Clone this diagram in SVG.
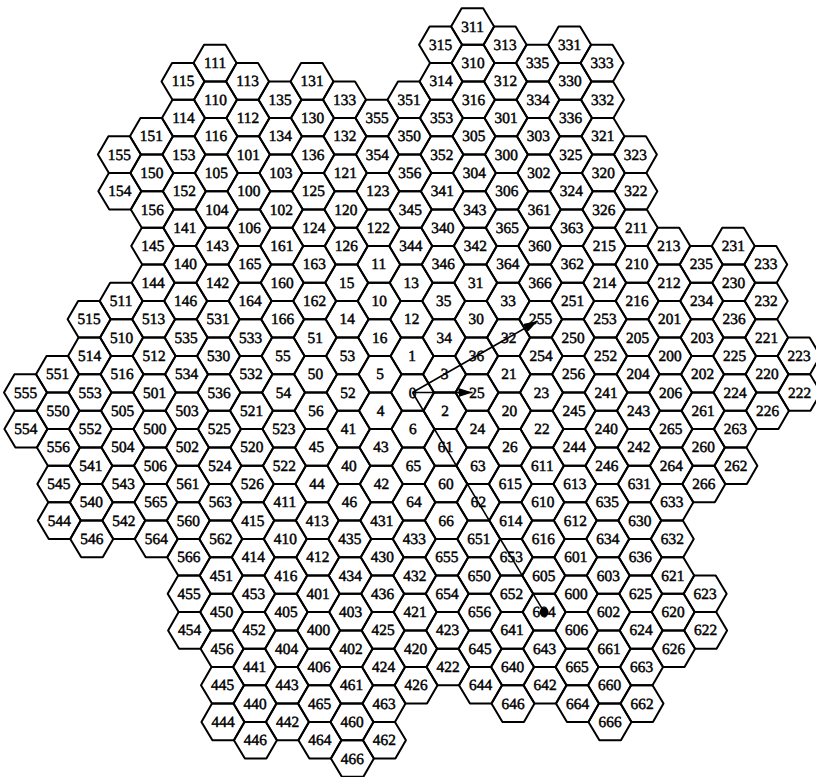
<svg xmlns="http://www.w3.org/2000/svg" xmlns:xlink="http://www.w3.org/1999/xlink" width="816" height="777" viewBox="0 0 816 777">
<style>
#h{fill:none;stroke:#000;stroke-width:2;stroke-linejoin:round}
text{font-family:"Liberation Serif","Times New Roman",serif;font-size:15.5px;text-anchor:middle;fill:#000;stroke:#000;stroke-width:0.45}
#connectors line{stroke:#000;stroke-width:1.6;fill:none}
</style>
<defs>
<polygon id="h" points="-21.5,0 -10.75,-18.3 10.75,-18.3 21.5,0 10.75,18.3 -10.75,18.3"/>
<marker id="ah" viewBox="0 0 14 9" refX="14" refY="4.5" markerWidth="14" markerHeight="9" markerUnits="userSpaceOnUse" orient="auto"><path d="M0,0 L14,4.5 L0,9 z" fill="#000"/></marker>
</defs>
<rect width="816" height="777" fill="#fff"/>
<g id="grid" transform="matrix(1 0 0.012 1 412.5 392.5)">
<g id="cells">
<g id="L0">
<g id="k00">
<g id="n0"><use href="#h"/><text y="5">0</text></g>
<g id="n1" transform="translate(0,-36.6)"><use href="#h"/><text y="5">1</text></g>
<g id="n2" transform="translate(32.25,18.3)"><use href="#h"/><text y="5">2</text></g>
<g id="n3" transform="translate(32.25,-18.3)"><use href="#h"/><text y="5">3</text></g>
<g id="n4" transform="translate(-32.25,18.3)"><use href="#h"/><text y="5">4</text></g>
<g id="n5" transform="translate(-32.25,-18.3)"><use href="#h"/><text y="5">5</text></g>
<g id="n6" transform="translate(0,36.6)"><use href="#h"/><text y="5">6</text></g>
</g>
<g id="k01" transform="translate(-32.25,-91.5)">
<g id="n10"><use href="#h"/><text y="5">10</text></g>
<g id="n11" transform="translate(0,-36.6)"><use href="#h"/><text y="5">11</text></g>
<g id="n12" transform="translate(32.25,18.3)"><use href="#h"/><text y="5">12</text></g>
<g id="n13" transform="translate(32.25,-18.3)"><use href="#h"/><text y="5">13</text></g>
<g id="n14" transform="translate(-32.25,18.3)"><use href="#h"/><text y="5">14</text></g>
<g id="n15" transform="translate(-32.25,-18.3)"><use href="#h"/><text y="5">15</text></g>
<g id="n16" transform="translate(0,36.6)"><use href="#h"/><text y="5">16</text></g>
</g>
<g id="k02" transform="translate(96.75,18.3)">
<g id="n20"><use href="#h"/><text y="5">20</text></g>
<g id="n21" transform="translate(0,-36.6)"><use href="#h"/><text y="5">21</text></g>
<g id="n22" transform="translate(32.25,18.3)"><use href="#h"/><text y="5">22</text></g>
<g id="n23" transform="translate(32.25,-18.3)"><use href="#h"/><text y="5">23</text></g>
<g id="n24" transform="translate(-32.25,18.3)"><use href="#h"/><text y="5">24</text></g>
<g id="n25" transform="translate(-32.25,-18.3)"><use href="#h"/><text y="5">25</text></g>
<g id="n26" transform="translate(0,36.6)"><use href="#h"/><text y="5">26</text></g>
</g>
<g id="k03" transform="translate(64.5,-73.2)">
<g id="n30"><use href="#h"/><text y="5">30</text></g>
<g id="n31" transform="translate(0,-36.6)"><use href="#h"/><text y="5">31</text></g>
<g id="n32" transform="translate(32.25,18.3)"><use href="#h"/><text y="5">32</text></g>
<g id="n33" transform="translate(32.25,-18.3)"><use href="#h"/><text y="5">33</text></g>
<g id="n34" transform="translate(-32.25,18.3)"><use href="#h"/><text y="5">34</text></g>
<g id="n35" transform="translate(-32.25,-18.3)"><use href="#h"/><text y="5">35</text></g>
<g id="n36" transform="translate(0,36.6)"><use href="#h"/><text y="5">36</text></g>
</g>
<g id="k04" transform="translate(-64.5,73.2)">
<g id="n40"><use href="#h"/><text y="5">40</text></g>
<g id="n41" transform="translate(0,-36.6)"><use href="#h"/><text y="5">41</text></g>
<g id="n42" transform="translate(32.25,18.3)"><use href="#h"/><text y="5">42</text></g>
<g id="n43" transform="translate(32.25,-18.3)"><use href="#h"/><text y="5">43</text></g>
<g id="n44" transform="translate(-32.25,18.3)"><use href="#h"/><text y="5">44</text></g>
<g id="n45" transform="translate(-32.25,-18.3)"><use href="#h"/><text y="5">45</text></g>
<g id="n46" transform="translate(0,36.6)"><use href="#h"/><text y="5">46</text></g>
</g>
<g id="k05" transform="translate(-96.75,-18.3)">
<g id="n50"><use href="#h"/><text y="5">50</text></g>
<g id="n51" transform="translate(0,-36.6)"><use href="#h"/><text y="5">51</text></g>
<g id="n52" transform="translate(32.25,18.3)"><use href="#h"/><text y="5">52</text></g>
<g id="n53" transform="translate(32.25,-18.3)"><use href="#h"/><text y="5">53</text></g>
<g id="n54" transform="translate(-32.25,18.3)"><use href="#h"/><text y="5">54</text></g>
<g id="n55" transform="translate(-32.25,-18.3)"><use href="#h"/><text y="5">55</text></g>
<g id="n56" transform="translate(0,36.6)"><use href="#h"/><text y="5">56</text></g>
</g>
<g id="k06" transform="translate(32.25,91.5)">
<g id="n60"><use href="#h"/><text y="5">60</text></g>
<g id="n61" transform="translate(0,-36.6)"><use href="#h"/><text y="5">61</text></g>
<g id="n62" transform="translate(32.25,18.3)"><use href="#h"/><text y="5">62</text></g>
<g id="n63" transform="translate(32.25,-18.3)"><use href="#h"/><text y="5">63</text></g>
<g id="n64" transform="translate(-32.25,18.3)"><use href="#h"/><text y="5">64</text></g>
<g id="n65" transform="translate(-32.25,-18.3)"><use href="#h"/><text y="5">65</text></g>
<g id="n66" transform="translate(0,36.6)"><use href="#h"/><text y="5">66</text></g>
</g>
</g>
<g id="L1" transform="translate(-161.25,-201.3)">
<g id="k10">
<g id="n100"><use href="#h"/><text y="5">100</text></g>
<g id="n101" transform="translate(0,-36.6)"><use href="#h"/><text y="5">101</text></g>
<g id="n102" transform="translate(32.25,18.3)"><use href="#h"/><text y="5">102</text></g>
<g id="n103" transform="translate(32.25,-18.3)"><use href="#h"/><text y="5">103</text></g>
<g id="n104" transform="translate(-32.25,18.3)"><use href="#h"/><text y="5">104</text></g>
<g id="n105" transform="translate(-32.25,-18.3)"><use href="#h"/><text y="5">105</text></g>
<g id="n106" transform="translate(0,36.6)"><use href="#h"/><text y="5">106</text></g>
</g>
<g id="k11" transform="translate(-32.25,-91.5)">
<g id="n110"><use href="#h"/><text y="5">110</text></g>
<g id="n111" transform="translate(0,-36.6)"><use href="#h"/><text y="5">111</text></g>
<g id="n112" transform="translate(32.25,18.3)"><use href="#h"/><text y="5">112</text></g>
<g id="n113" transform="translate(32.25,-18.3)"><use href="#h"/><text y="5">113</text></g>
<g id="n114" transform="translate(-32.25,18.3)"><use href="#h"/><text y="5">114</text></g>
<g id="n115" transform="translate(-32.25,-18.3)"><use href="#h"/><text y="5">115</text></g>
<g id="n116" transform="translate(0,36.6)"><use href="#h"/><text y="5">116</text></g>
</g>
<g id="k12" transform="translate(96.75,18.3)">
<g id="n120"><use href="#h"/><text y="5">120</text></g>
<g id="n121" transform="translate(0,-36.6)"><use href="#h"/><text y="5">121</text></g>
<g id="n122" transform="translate(32.25,18.3)"><use href="#h"/><text y="5">122</text></g>
<g id="n123" transform="translate(32.25,-18.3)"><use href="#h"/><text y="5">123</text></g>
<g id="n124" transform="translate(-32.25,18.3)"><use href="#h"/><text y="5">124</text></g>
<g id="n125" transform="translate(-32.25,-18.3)"><use href="#h"/><text y="5">125</text></g>
<g id="n126" transform="translate(0,36.6)"><use href="#h"/><text y="5">126</text></g>
</g>
<g id="k13" transform="translate(64.5,-73.2)">
<g id="n130"><use href="#h"/><text y="5">130</text></g>
<g id="n131" transform="translate(0,-36.6)"><use href="#h"/><text y="5">131</text></g>
<g id="n132" transform="translate(32.25,18.3)"><use href="#h"/><text y="5">132</text></g>
<g id="n133" transform="translate(32.25,-18.3)"><use href="#h"/><text y="5">133</text></g>
<g id="n134" transform="translate(-32.25,18.3)"><use href="#h"/><text y="5">134</text></g>
<g id="n135" transform="translate(-32.25,-18.3)"><use href="#h"/><text y="5">135</text></g>
<g id="n136" transform="translate(0,36.6)"><use href="#h"/><text y="5">136</text></g>
</g>
<g id="k14" transform="translate(-64.5,73.2)">
<g id="n140"><use href="#h"/><text y="5">140</text></g>
<g id="n141" transform="translate(0,-36.6)"><use href="#h"/><text y="5">141</text></g>
<g id="n142" transform="translate(32.25,18.3)"><use href="#h"/><text y="5">142</text></g>
<g id="n143" transform="translate(32.25,-18.3)"><use href="#h"/><text y="5">143</text></g>
<g id="n144" transform="translate(-32.25,18.3)"><use href="#h"/><text y="5">144</text></g>
<g id="n145" transform="translate(-32.25,-18.3)"><use href="#h"/><text y="5">145</text></g>
<g id="n146" transform="translate(0,36.6)"><use href="#h"/><text y="5">146</text></g>
</g>
<g id="k15" transform="translate(-96.75,-18.3)">
<g id="n150"><use href="#h"/><text y="5">150</text></g>
<g id="n151" transform="translate(0,-36.6)"><use href="#h"/><text y="5">151</text></g>
<g id="n152" transform="translate(32.25,18.3)"><use href="#h"/><text y="5">152</text></g>
<g id="n153" transform="translate(32.25,-18.3)"><use href="#h"/><text y="5">153</text></g>
<g id="n154" transform="translate(-32.25,18.3)"><use href="#h"/><text y="5">154</text></g>
<g id="n155" transform="translate(-32.25,-18.3)"><use href="#h"/><text y="5">155</text></g>
<g id="n156" transform="translate(0,36.6)"><use href="#h"/><text y="5">156</text></g>
</g>
<g id="k16" transform="translate(32.25,91.5)">
<g id="n160"><use href="#h"/><text y="5">160</text></g>
<g id="n161" transform="translate(0,-36.6)"><use href="#h"/><text y="5">161</text></g>
<g id="n162" transform="translate(32.25,18.3)"><use href="#h"/><text y="5">162</text></g>
<g id="n163" transform="translate(32.25,-18.3)"><use href="#h"/><text y="5">163</text></g>
<g id="n164" transform="translate(-32.25,18.3)"><use href="#h"/><text y="5">164</text></g>
<g id="n165" transform="translate(-32.25,-18.3)"><use href="#h"/><text y="5">165</text></g>
<g id="n166" transform="translate(0,36.6)"><use href="#h"/><text y="5">166</text></g>
</g>
</g>
<g id="L2" transform="translate(258,-36.6)">
<g id="k20">
<g id="n200"><use href="#h"/><text y="5">200</text></g>
<g id="n201" transform="translate(0,-36.6)"><use href="#h"/><text y="5">201</text></g>
<g id="n202" transform="translate(32.25,18.3)"><use href="#h"/><text y="5">202</text></g>
<g id="n203" transform="translate(32.25,-18.3)"><use href="#h"/><text y="5">203</text></g>
<g id="n204" transform="translate(-32.25,18.3)"><use href="#h"/><text y="5">204</text></g>
<g id="n205" transform="translate(-32.25,-18.3)"><use href="#h"/><text y="5">205</text></g>
<g id="n206" transform="translate(0,36.6)"><use href="#h"/><text y="5">206</text></g>
</g>
<g id="k21" transform="translate(-32.25,-91.5)">
<g id="n210"><use href="#h"/><text y="5">210</text></g>
<g id="n211" transform="translate(0,-36.6)"><use href="#h"/><text y="5">211</text></g>
<g id="n212" transform="translate(32.25,18.3)"><use href="#h"/><text y="5">212</text></g>
<g id="n213" transform="translate(32.25,-18.3)"><use href="#h"/><text y="5">213</text></g>
<g id="n214" transform="translate(-32.25,18.3)"><use href="#h"/><text y="5">214</text></g>
<g id="n215" transform="translate(-32.25,-18.3)"><use href="#h"/><text y="5">215</text></g>
<g id="n216" transform="translate(0,36.6)"><use href="#h"/><text y="5">216</text></g>
</g>
<g id="k22" transform="translate(96.75,18.3)">
<g id="n220"><use href="#h"/><text y="5">220</text></g>
<g id="n221" transform="translate(0,-36.6)"><use href="#h"/><text y="5">221</text></g>
<g id="n222" transform="translate(32.25,18.3)"><use href="#h"/><text y="5">222</text></g>
<g id="n223" transform="translate(32.25,-18.3)"><use href="#h"/><text y="5">223</text></g>
<g id="n224" transform="translate(-32.25,18.3)"><use href="#h"/><text y="5">224</text></g>
<g id="n225" transform="translate(-32.25,-18.3)"><use href="#h"/><text y="5">225</text></g>
<g id="n226" transform="translate(0,36.6)"><use href="#h"/><text y="5">226</text></g>
</g>
<g id="k23" transform="translate(64.5,-73.2)">
<g id="n230"><use href="#h"/><text y="5">230</text></g>
<g id="n231" transform="translate(0,-36.6)"><use href="#h"/><text y="5">231</text></g>
<g id="n232" transform="translate(32.25,18.3)"><use href="#h"/><text y="5">232</text></g>
<g id="n233" transform="translate(32.25,-18.3)"><use href="#h"/><text y="5">233</text></g>
<g id="n234" transform="translate(-32.25,18.3)"><use href="#h"/><text y="5">234</text></g>
<g id="n235" transform="translate(-32.25,-18.3)"><use href="#h"/><text y="5">235</text></g>
<g id="n236" transform="translate(0,36.6)"><use href="#h"/><text y="5">236</text></g>
</g>
<g id="k24" transform="translate(-64.5,73.2)">
<g id="n240"><use href="#h"/><text y="5">240</text></g>
<g id="n241" transform="translate(0,-36.6)"><use href="#h"/><text y="5">241</text></g>
<g id="n242" transform="translate(32.25,18.3)"><use href="#h"/><text y="5">242</text></g>
<g id="n243" transform="translate(32.25,-18.3)"><use href="#h"/><text y="5">243</text></g>
<g id="n244" transform="translate(-32.25,18.3)"><use href="#h"/><text y="5">244</text></g>
<g id="n245" transform="translate(-32.25,-18.3)"><use href="#h"/><text y="5">245</text></g>
<g id="n246" transform="translate(0,36.6)"><use href="#h"/><text y="5">246</text></g>
</g>
<g id="k25" transform="translate(-96.75,-18.3)">
<g id="n250"><use href="#h"/><text y="5">250</text></g>
<g id="n251" transform="translate(0,-36.6)"><use href="#h"/><text y="5">251</text></g>
<g id="n252" transform="translate(32.25,18.3)"><use href="#h"/><text y="5">252</text></g>
<g id="n253" transform="translate(32.25,-18.3)"><use href="#h"/><text y="5">253</text></g>
<g id="n254" transform="translate(-32.25,18.3)"><use href="#h"/><text y="5">254</text></g>
<g id="n255" transform="translate(-32.25,-18.3)"><use href="#h"/><text y="5">255</text></g>
<g id="n256" transform="translate(0,36.6)"><use href="#h"/><text y="5">256</text></g>
</g>
<g id="k26" transform="translate(32.25,91.5)">
<g id="n260"><use href="#h"/><text y="5">260</text></g>
<g id="n261" transform="translate(0,-36.6)"><use href="#h"/><text y="5">261</text></g>
<g id="n262" transform="translate(32.25,18.3)"><use href="#h"/><text y="5">262</text></g>
<g id="n263" transform="translate(32.25,-18.3)"><use href="#h"/><text y="5">263</text></g>
<g id="n264" transform="translate(-32.25,18.3)"><use href="#h"/><text y="5">264</text></g>
<g id="n265" transform="translate(-32.25,-18.3)"><use href="#h"/><text y="5">265</text></g>
<g id="n266" transform="translate(0,36.6)"><use href="#h"/><text y="5">266</text></g>
</g>
</g>
<g id="L3" transform="translate(96.75,-237.9)">
<g id="k30">
<g id="n300"><use href="#h"/><text y="5">300</text></g>
<g id="n301" transform="translate(0,-36.6)"><use href="#h"/><text y="5">301</text></g>
<g id="n302" transform="translate(32.25,18.3)"><use href="#h"/><text y="5">302</text></g>
<g id="n303" transform="translate(32.25,-18.3)"><use href="#h"/><text y="5">303</text></g>
<g id="n304" transform="translate(-32.25,18.3)"><use href="#h"/><text y="5">304</text></g>
<g id="n305" transform="translate(-32.25,-18.3)"><use href="#h"/><text y="5">305</text></g>
<g id="n306" transform="translate(0,36.6)"><use href="#h"/><text y="5">306</text></g>
</g>
<g id="k31" transform="translate(-32.25,-91.5)">
<g id="n310"><use href="#h"/><text y="5">310</text></g>
<g id="n311" transform="translate(0,-36.6)"><use href="#h"/><text y="5">311</text></g>
<g id="n312" transform="translate(32.25,18.3)"><use href="#h"/><text y="5">312</text></g>
<g id="n313" transform="translate(32.25,-18.3)"><use href="#h"/><text y="5">313</text></g>
<g id="n314" transform="translate(-32.25,18.3)"><use href="#h"/><text y="5">314</text></g>
<g id="n315" transform="translate(-32.25,-18.3)"><use href="#h"/><text y="5">315</text></g>
<g id="n316" transform="translate(0,36.6)"><use href="#h"/><text y="5">316</text></g>
</g>
<g id="k32" transform="translate(96.75,18.3)">
<g id="n320"><use href="#h"/><text y="5">320</text></g>
<g id="n321" transform="translate(0,-36.6)"><use href="#h"/><text y="5">321</text></g>
<g id="n322" transform="translate(32.25,18.3)"><use href="#h"/><text y="5">322</text></g>
<g id="n323" transform="translate(32.25,-18.3)"><use href="#h"/><text y="5">323</text></g>
<g id="n324" transform="translate(-32.25,18.3)"><use href="#h"/><text y="5">324</text></g>
<g id="n325" transform="translate(-32.25,-18.3)"><use href="#h"/><text y="5">325</text></g>
<g id="n326" transform="translate(0,36.6)"><use href="#h"/><text y="5">326</text></g>
</g>
<g id="k33" transform="translate(64.5,-73.2)">
<g id="n330"><use href="#h"/><text y="5">330</text></g>
<g id="n331" transform="translate(0,-36.6)"><use href="#h"/><text y="5">331</text></g>
<g id="n332" transform="translate(32.25,18.3)"><use href="#h"/><text y="5">332</text></g>
<g id="n333" transform="translate(32.25,-18.3)"><use href="#h"/><text y="5">333</text></g>
<g id="n334" transform="translate(-32.25,18.3)"><use href="#h"/><text y="5">334</text></g>
<g id="n335" transform="translate(-32.25,-18.3)"><use href="#h"/><text y="5">335</text></g>
<g id="n336" transform="translate(0,36.6)"><use href="#h"/><text y="5">336</text></g>
</g>
<g id="k34" transform="translate(-64.5,73.2)">
<g id="n340"><use href="#h"/><text y="5">340</text></g>
<g id="n341" transform="translate(0,-36.6)"><use href="#h"/><text y="5">341</text></g>
<g id="n342" transform="translate(32.25,18.3)"><use href="#h"/><text y="5">342</text></g>
<g id="n343" transform="translate(32.25,-18.3)"><use href="#h"/><text y="5">343</text></g>
<g id="n344" transform="translate(-32.25,18.3)"><use href="#h"/><text y="5">344</text></g>
<g id="n345" transform="translate(-32.25,-18.3)"><use href="#h"/><text y="5">345</text></g>
<g id="n346" transform="translate(0,36.6)"><use href="#h"/><text y="5">346</text></g>
</g>
<g id="k35" transform="translate(-96.75,-18.3)">
<g id="n350"><use href="#h"/><text y="5">350</text></g>
<g id="n351" transform="translate(0,-36.6)"><use href="#h"/><text y="5">351</text></g>
<g id="n352" transform="translate(32.25,18.3)"><use href="#h"/><text y="5">352</text></g>
<g id="n353" transform="translate(32.25,-18.3)"><use href="#h"/><text y="5">353</text></g>
<g id="n354" transform="translate(-32.25,18.3)"><use href="#h"/><text y="5">354</text></g>
<g id="n355" transform="translate(-32.25,-18.3)"><use href="#h"/><text y="5">355</text></g>
<g id="n356" transform="translate(0,36.6)"><use href="#h"/><text y="5">356</text></g>
</g>
<g id="k36" transform="translate(32.25,91.5)">
<g id="n360"><use href="#h"/><text y="5">360</text></g>
<g id="n361" transform="translate(0,-36.6)"><use href="#h"/><text y="5">361</text></g>
<g id="n362" transform="translate(32.25,18.3)"><use href="#h"/><text y="5">362</text></g>
<g id="n363" transform="translate(32.25,-18.3)"><use href="#h"/><text y="5">363</text></g>
<g id="n364" transform="translate(-32.25,18.3)"><use href="#h"/><text y="5">364</text></g>
<g id="n365" transform="translate(-32.25,-18.3)"><use href="#h"/><text y="5">365</text></g>
<g id="n366" transform="translate(0,36.6)"><use href="#h"/><text y="5">366</text></g>
</g>
</g>
<g id="L4" transform="translate(-96.75,237.9)">
<g id="k40">
<g id="n400"><use href="#h"/><text y="5">400</text></g>
<g id="n401" transform="translate(0,-36.6)"><use href="#h"/><text y="5">401</text></g>
<g id="n402" transform="translate(32.25,18.3)"><use href="#h"/><text y="5">402</text></g>
<g id="n403" transform="translate(32.25,-18.3)"><use href="#h"/><text y="5">403</text></g>
<g id="n404" transform="translate(-32.25,18.3)"><use href="#h"/><text y="5">404</text></g>
<g id="n405" transform="translate(-32.25,-18.3)"><use href="#h"/><text y="5">405</text></g>
<g id="n406" transform="translate(0,36.6)"><use href="#h"/><text y="5">406</text></g>
</g>
<g id="k41" transform="translate(-32.25,-91.5)">
<g id="n410"><use href="#h"/><text y="5">410</text></g>
<g id="n411" transform="translate(0,-36.6)"><use href="#h"/><text y="5">411</text></g>
<g id="n412" transform="translate(32.25,18.3)"><use href="#h"/><text y="5">412</text></g>
<g id="n413" transform="translate(32.25,-18.3)"><use href="#h"/><text y="5">413</text></g>
<g id="n414" transform="translate(-32.25,18.3)"><use href="#h"/><text y="5">414</text></g>
<g id="n415" transform="translate(-32.25,-18.3)"><use href="#h"/><text y="5">415</text></g>
<g id="n416" transform="translate(0,36.6)"><use href="#h"/><text y="5">416</text></g>
</g>
<g id="k42" transform="translate(96.75,18.3)">
<g id="n420"><use href="#h"/><text y="5">420</text></g>
<g id="n421" transform="translate(0,-36.6)"><use href="#h"/><text y="5">421</text></g>
<g id="n422" transform="translate(32.25,18.3)"><use href="#h"/><text y="5">422</text></g>
<g id="n423" transform="translate(32.25,-18.3)"><use href="#h"/><text y="5">423</text></g>
<g id="n424" transform="translate(-32.25,18.3)"><use href="#h"/><text y="5">424</text></g>
<g id="n425" transform="translate(-32.25,-18.3)"><use href="#h"/><text y="5">425</text></g>
<g id="n426" transform="translate(0,36.6)"><use href="#h"/><text y="5">426</text></g>
</g>
<g id="k43" transform="translate(64.5,-73.2)">
<g id="n430"><use href="#h"/><text y="5">430</text></g>
<g id="n431" transform="translate(0,-36.6)"><use href="#h"/><text y="5">431</text></g>
<g id="n432" transform="translate(32.25,18.3)"><use href="#h"/><text y="5">432</text></g>
<g id="n433" transform="translate(32.25,-18.3)"><use href="#h"/><text y="5">433</text></g>
<g id="n434" transform="translate(-32.25,18.3)"><use href="#h"/><text y="5">434</text></g>
<g id="n435" transform="translate(-32.25,-18.3)"><use href="#h"/><text y="5">435</text></g>
<g id="n436" transform="translate(0,36.6)"><use href="#h"/><text y="5">436</text></g>
</g>
<g id="k44" transform="translate(-64.5,73.2)">
<g id="n440"><use href="#h"/><text y="5">440</text></g>
<g id="n441" transform="translate(0,-36.6)"><use href="#h"/><text y="5">441</text></g>
<g id="n442" transform="translate(32.25,18.3)"><use href="#h"/><text y="5">442</text></g>
<g id="n443" transform="translate(32.25,-18.3)"><use href="#h"/><text y="5">443</text></g>
<g id="n444" transform="translate(-32.25,18.3)"><use href="#h"/><text y="5">444</text></g>
<g id="n445" transform="translate(-32.25,-18.3)"><use href="#h"/><text y="5">445</text></g>
<g id="n446" transform="translate(0,36.6)"><use href="#h"/><text y="5">446</text></g>
</g>
<g id="k45" transform="translate(-96.75,-18.3)">
<g id="n450"><use href="#h"/><text y="5">450</text></g>
<g id="n451" transform="translate(0,-36.6)"><use href="#h"/><text y="5">451</text></g>
<g id="n452" transform="translate(32.25,18.3)"><use href="#h"/><text y="5">452</text></g>
<g id="n453" transform="translate(32.25,-18.3)"><use href="#h"/><text y="5">453</text></g>
<g id="n454" transform="translate(-32.25,18.3)"><use href="#h"/><text y="5">454</text></g>
<g id="n455" transform="translate(-32.25,-18.3)"><use href="#h"/><text y="5">455</text></g>
<g id="n456" transform="translate(0,36.6)"><use href="#h"/><text y="5">456</text></g>
</g>
<g id="k46" transform="translate(32.25,91.5)">
<g id="n460"><use href="#h"/><text y="5">460</text></g>
<g id="n461" transform="translate(0,-36.6)"><use href="#h"/><text y="5">461</text></g>
<g id="n462" transform="translate(32.25,18.3)"><use href="#h"/><text y="5">462</text></g>
<g id="n463" transform="translate(32.25,-18.3)"><use href="#h"/><text y="5">463</text></g>
<g id="n464" transform="translate(-32.25,18.3)"><use href="#h"/><text y="5">464</text></g>
<g id="n465" transform="translate(-32.25,-18.3)"><use href="#h"/><text y="5">465</text></g>
<g id="n466" transform="translate(0,36.6)"><use href="#h"/><text y="5">466</text></g>
</g>
</g>
<g id="L5" transform="translate(-258,36.6)">
<g id="k50">
<g id="n500"><use href="#h"/><text y="5">500</text></g>
<g id="n501" transform="translate(0,-36.6)"><use href="#h"/><text y="5">501</text></g>
<g id="n502" transform="translate(32.25,18.3)"><use href="#h"/><text y="5">502</text></g>
<g id="n503" transform="translate(32.25,-18.3)"><use href="#h"/><text y="5">503</text></g>
<g id="n504" transform="translate(-32.25,18.3)"><use href="#h"/><text y="5">504</text></g>
<g id="n505" transform="translate(-32.25,-18.3)"><use href="#h"/><text y="5">505</text></g>
<g id="n506" transform="translate(0,36.6)"><use href="#h"/><text y="5">506</text></g>
</g>
<g id="k51" transform="translate(-32.25,-91.5)">
<g id="n510"><use href="#h"/><text y="5">510</text></g>
<g id="n511" transform="translate(0,-36.6)"><use href="#h"/><text y="5">511</text></g>
<g id="n512" transform="translate(32.25,18.3)"><use href="#h"/><text y="5">512</text></g>
<g id="n513" transform="translate(32.25,-18.3)"><use href="#h"/><text y="5">513</text></g>
<g id="n514" transform="translate(-32.25,18.3)"><use href="#h"/><text y="5">514</text></g>
<g id="n515" transform="translate(-32.25,-18.3)"><use href="#h"/><text y="5">515</text></g>
<g id="n516" transform="translate(0,36.6)"><use href="#h"/><text y="5">516</text></g>
</g>
<g id="k52" transform="translate(96.75,18.3)">
<g id="n520"><use href="#h"/><text y="5">520</text></g>
<g id="n521" transform="translate(0,-36.6)"><use href="#h"/><text y="5">521</text></g>
<g id="n522" transform="translate(32.25,18.3)"><use href="#h"/><text y="5">522</text></g>
<g id="n523" transform="translate(32.25,-18.3)"><use href="#h"/><text y="5">523</text></g>
<g id="n524" transform="translate(-32.25,18.3)"><use href="#h"/><text y="5">524</text></g>
<g id="n525" transform="translate(-32.25,-18.3)"><use href="#h"/><text y="5">525</text></g>
<g id="n526" transform="translate(0,36.6)"><use href="#h"/><text y="5">526</text></g>
</g>
<g id="k53" transform="translate(64.5,-73.2)">
<g id="n530"><use href="#h"/><text y="5">530</text></g>
<g id="n531" transform="translate(0,-36.6)"><use href="#h"/><text y="5">531</text></g>
<g id="n532" transform="translate(32.25,18.3)"><use href="#h"/><text y="5">532</text></g>
<g id="n533" transform="translate(32.25,-18.3)"><use href="#h"/><text y="5">533</text></g>
<g id="n534" transform="translate(-32.25,18.3)"><use href="#h"/><text y="5">534</text></g>
<g id="n535" transform="translate(-32.25,-18.3)"><use href="#h"/><text y="5">535</text></g>
<g id="n536" transform="translate(0,36.6)"><use href="#h"/><text y="5">536</text></g>
</g>
<g id="k54" transform="translate(-64.5,73.2)">
<g id="n540"><use href="#h"/><text y="5">540</text></g>
<g id="n541" transform="translate(0,-36.6)"><use href="#h"/><text y="5">541</text></g>
<g id="n542" transform="translate(32.25,18.3)"><use href="#h"/><text y="5">542</text></g>
<g id="n543" transform="translate(32.25,-18.3)"><use href="#h"/><text y="5">543</text></g>
<g id="n544" transform="translate(-32.25,18.3)"><use href="#h"/><text y="5">544</text></g>
<g id="n545" transform="translate(-32.25,-18.3)"><use href="#h"/><text y="5">545</text></g>
<g id="n546" transform="translate(0,36.6)"><use href="#h"/><text y="5">546</text></g>
</g>
<g id="k55" transform="translate(-96.75,-18.3)">
<g id="n550"><use href="#h"/><text y="5">550</text></g>
<g id="n551" transform="translate(0,-36.6)"><use href="#h"/><text y="5">551</text></g>
<g id="n552" transform="translate(32.25,18.3)"><use href="#h"/><text y="5">552</text></g>
<g id="n553" transform="translate(32.25,-18.3)"><use href="#h"/><text y="5">553</text></g>
<g id="n554" transform="translate(-32.25,18.3)"><use href="#h"/><text y="5">554</text></g>
<g id="n555" transform="translate(-32.25,-18.3)"><use href="#h"/><text y="5">555</text></g>
<g id="n556" transform="translate(0,36.6)"><use href="#h"/><text y="5">556</text></g>
</g>
<g id="k56" transform="translate(32.25,91.5)">
<g id="n560"><use href="#h"/><text y="5">560</text></g>
<g id="n561" transform="translate(0,-36.6)"><use href="#h"/><text y="5">561</text></g>
<g id="n562" transform="translate(32.25,18.3)"><use href="#h"/><text y="5">562</text></g>
<g id="n563" transform="translate(32.25,-18.3)"><use href="#h"/><text y="5">563</text></g>
<g id="n564" transform="translate(-32.25,18.3)"><use href="#h"/><text y="5">564</text></g>
<g id="n565" transform="translate(-32.25,-18.3)"><use href="#h"/><text y="5">565</text></g>
<g id="n566" transform="translate(0,36.6)"><use href="#h"/><text y="5">566</text></g>
</g>
</g>
<g id="L6" transform="translate(161.25,201.3)">
<g id="k60">
<g id="n600"><use href="#h"/><text y="5">600</text></g>
<g id="n601" transform="translate(0,-36.6)"><use href="#h"/><text y="5">601</text></g>
<g id="n602" transform="translate(32.25,18.3)"><use href="#h"/><text y="5">602</text></g>
<g id="n603" transform="translate(32.25,-18.3)"><use href="#h"/><text y="5">603</text></g>
<g id="n604" transform="translate(-32.25,18.3)"><use href="#h"/><text y="5">604</text></g>
<g id="n605" transform="translate(-32.25,-18.3)"><use href="#h"/><text y="5">605</text></g>
<g id="n606" transform="translate(0,36.6)"><use href="#h"/><text y="5">606</text></g>
</g>
<g id="k61" transform="translate(-32.25,-91.5)">
<g id="n610"><use href="#h"/><text y="5">610</text></g>
<g id="n611" transform="translate(0,-36.6)"><use href="#h"/><text y="5">611</text></g>
<g id="n612" transform="translate(32.25,18.3)"><use href="#h"/><text y="5">612</text></g>
<g id="n613" transform="translate(32.25,-18.3)"><use href="#h"/><text y="5">613</text></g>
<g id="n614" transform="translate(-32.25,18.3)"><use href="#h"/><text y="5">614</text></g>
<g id="n615" transform="translate(-32.25,-18.3)"><use href="#h"/><text y="5">615</text></g>
<g id="n616" transform="translate(0,36.6)"><use href="#h"/><text y="5">616</text></g>
</g>
<g id="k62" transform="translate(96.75,18.3)">
<g id="n620"><use href="#h"/><text y="5">620</text></g>
<g id="n621" transform="translate(0,-36.6)"><use href="#h"/><text y="5">621</text></g>
<g id="n622" transform="translate(32.25,18.3)"><use href="#h"/><text y="5">622</text></g>
<g id="n623" transform="translate(32.25,-18.3)"><use href="#h"/><text y="5">623</text></g>
<g id="n624" transform="translate(-32.25,18.3)"><use href="#h"/><text y="5">624</text></g>
<g id="n625" transform="translate(-32.25,-18.3)"><use href="#h"/><text y="5">625</text></g>
<g id="n626" transform="translate(0,36.6)"><use href="#h"/><text y="5">626</text></g>
</g>
<g id="k63" transform="translate(64.5,-73.2)">
<g id="n630"><use href="#h"/><text y="5">630</text></g>
<g id="n631" transform="translate(0,-36.6)"><use href="#h"/><text y="5">631</text></g>
<g id="n632" transform="translate(32.25,18.3)"><use href="#h"/><text y="5">632</text></g>
<g id="n633" transform="translate(32.25,-18.3)"><use href="#h"/><text y="5">633</text></g>
<g id="n634" transform="translate(-32.25,18.3)"><use href="#h"/><text y="5">634</text></g>
<g id="n635" transform="translate(-32.25,-18.3)"><use href="#h"/><text y="5">635</text></g>
<g id="n636" transform="translate(0,36.6)"><use href="#h"/><text y="5">636</text></g>
</g>
<g id="k64" transform="translate(-64.5,73.2)">
<g id="n640"><use href="#h"/><text y="5">640</text></g>
<g id="n641" transform="translate(0,-36.6)"><use href="#h"/><text y="5">641</text></g>
<g id="n642" transform="translate(32.25,18.3)"><use href="#h"/><text y="5">642</text></g>
<g id="n643" transform="translate(32.25,-18.3)"><use href="#h"/><text y="5">643</text></g>
<g id="n644" transform="translate(-32.25,18.3)"><use href="#h"/><text y="5">644</text></g>
<g id="n645" transform="translate(-32.25,-18.3)"><use href="#h"/><text y="5">645</text></g>
<g id="n646" transform="translate(0,36.6)"><use href="#h"/><text y="5">646</text></g>
</g>
<g id="k65" transform="translate(-96.75,-18.3)">
<g id="n650"><use href="#h"/><text y="5">650</text></g>
<g id="n651" transform="translate(0,-36.6)"><use href="#h"/><text y="5">651</text></g>
<g id="n652" transform="translate(32.25,18.3)"><use href="#h"/><text y="5">652</text></g>
<g id="n653" transform="translate(32.25,-18.3)"><use href="#h"/><text y="5">653</text></g>
<g id="n654" transform="translate(-32.25,18.3)"><use href="#h"/><text y="5">654</text></g>
<g id="n655" transform="translate(-32.25,-18.3)"><use href="#h"/><text y="5">655</text></g>
<g id="n656" transform="translate(0,36.6)"><use href="#h"/><text y="5">656</text></g>
</g>
<g id="k66" transform="translate(32.25,91.5)">
<g id="n660"><use href="#h"/><text y="5">660</text></g>
<g id="n661" transform="translate(0,-36.6)"><use href="#h"/><text y="5">661</text></g>
<g id="n662" transform="translate(32.25,18.3)"><use href="#h"/><text y="5">662</text></g>
<g id="n663" transform="translate(32.25,-18.3)"><use href="#h"/><text y="5">663</text></g>
<g id="n664" transform="translate(-32.25,18.3)"><use href="#h"/><text y="5">664</text></g>
<g id="n665" transform="translate(-32.25,-18.3)"><use href="#h"/><text y="5">665</text></g>
<g id="n666" transform="translate(0,36.6)"><use href="#h"/><text y="5">666</text></g>
</g>
</g>
</g>
<g id="connectors">
<line x1="0" y1="0" x2="60" y2="0" marker-end="url(#ah)"/>
<line x1="0" y1="0" x2="126" y2="-71.5" marker-end="url(#ah)"/>
<line x1="0" y1="0" x2="129" y2="219.6"/>
<circle cx="129" cy="219.6" r="4.5" fill="#000"/>
</g>
</g>
</svg>
